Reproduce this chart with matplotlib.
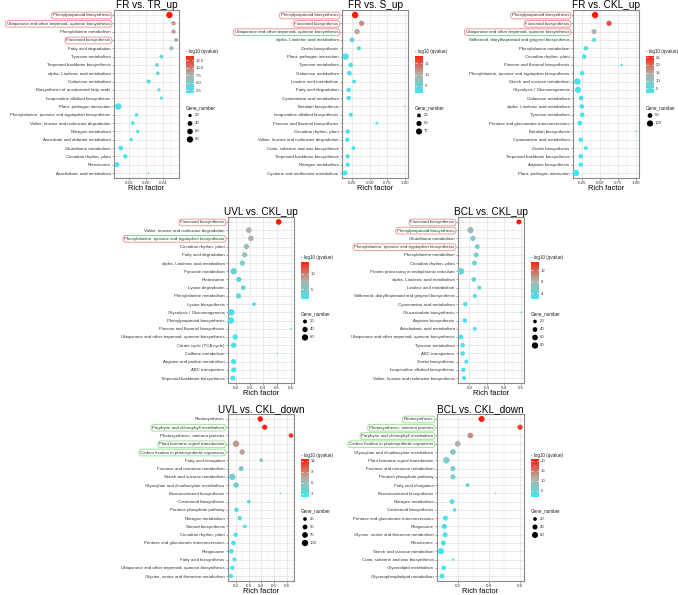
import numpy as np
import matplotlib
matplotlib.use('Agg')
import matplotlib.pyplot as plt
from matplotlib.colors import LinearSegmentedColormap, Normalize

plt.rcParams['font.family'] = ['Liberation Sans', 'DejaVu Sans']

# ---------------- DATA ----------------
FR_TR_terms = ["Phenylpropanoid biosynthesis", "Ubiquinone and other terpenoid- quinone biosynthesis",
               "Phenylalanine metabolism", "Flavonoid biosynthesis", "Fatty acid degradation",
               "Tyrosine metabolism", "Terpenoid backbone biosynthesis", "alpha- Linolenic acid metabolism",
               "Galactose metabolism", "Biosynthesis of unsaturated fatty acids",
               "Isoquinoline alkaloid biosynthesis", "Plant- pathogen interaction",
               "Phenylalanine, tyrosine and tryptophan biosynthesis", "Valine, leucine and isoleucine degradation",
               "Nitrogen metabolism", "Ascorbate and aldarate metabolism", "Glutathione metabolism",
               "Circadian rhythm- plant", "Peroxisome", "Arachidonic acid metabolism"]
FR_TR_rich = [0.256, 0.266, 0.266, 0.272, 0.261, 0.237, 0.226, 0.228, 0.206, 0.231, 0.237, 0.133,
              0.177, 0.168, 0.180, 0.164, 0.139, 0.150, 0.130, 0.206]
FR_TR_logq = [14.0, 8.5, 8.3, 7.6, 6.5, 3.8, 3.6, 3.6, 3.5, 3.0, 2.8, 2.0, 2.2, 2.1, 2.0, 1.9, 1.7, 1.6, 1.5, 1.4]
FR_TR_genes = [82, 35, 33, 28, 30, 25, 25, 25, 30, 18, 18, 85, 22, 25, 20, 22, 38, 32, 42, 10]
FR_TR_marked = ["Phenylpropanoid biosynthesis", "Ubiquinone and other terpenoid- quinone biosynthesis",
                "Flavonoid biosynthesis"]
FR_TR_xticks = [0.16, 0.20, 0.24]
FR_TR_xlabels = ["0.16", "0.20", "0.24"]
FR_TR_cticks = [2.5, 5.0, 7.5, 10.0, 12.5]
FR_TR_clabels = ["2.5", "5.0", "7.5", "10.0", "12.5"]
FR_TR_sizes = [20, 40, 60, 80]

FR_S_terms = ["Phenylpropanoid biosynthesis", "Flavonoid biosynthesis",
              "Ubiquinone and other terpenoid- quinone biosynthesis", "alpha- Linolenic acid metabolism",
              "Zeatin biosynthesis", "Plant- pathogen interaction", "Tyrosine metabolism",
              "Galactose metabolism", "Linoleic acid metabolism", "Fatty acid degradation",
              "Cyanoamino acid metabolism", "Betalain biosynthesis", "Isoquinoline alkaloid biosynthesis",
              "Flavone and flavonol biosynthesis", "Circadian rhythm- plant",
              "Valine, leucine and isoleucine degradation", "Cutin, suberine and wax biosynthesis",
              "Terpenoid backbone biosynthesis", "Nitrogen metabolism", "Cysteine and methionine metabolism"]
FR_S_rich = [0.293, 0.385, 0.322, 0.250, 0.346, 0.159, 0.231, 0.212, 0.279, 0.202, 0.202, 1.0, 0.231,
             0.60, 0.188, 0.183, 0.269, 0.188, 0.188, 0.150]
FR_S_logq = [18.5, 12.0, 10.5, 5.0, 3.0, 3.0, 2.8, 2.8, 2.5, 2.3, 2.3, 2.0, 2.0, 1.8, 1.7, 1.7, 1.6, 1.6, 1.6, 1.5]
FR_S_genes = [85, 55, 55, 42, 30, 88, 36, 40, 25, 35, 35, 8, 28, 12, 35, 35, 25, 32, 32, 45]
FR_S_marked = ["Phenylpropanoid biosynthesis", "Flavonoid biosynthesis",
               "Ubiquinone and other terpenoid- quinone biosynthesis"]
FR_S_xticks = [0.25, 0.50, 0.75, 1.00]
FR_S_xlabels = ["0.25", "0.50", "0.75", "1.00"]
FR_S_cticks = [5, 10, 15]
FR_S_clabels = ["5", "10", "15"]
FR_S_sizes = [25, 50, 75]

FR_CKL_terms = ["Phenylpropanoid biosynthesis", "Flavonoid biosynthesis",
                "Ubiquinone and other terpenoid- quinone biosynthesis",
                "Stilbenoid, diarylheptanoid and gingerol biosynthesis", "Phenylalanine metabolism",
                "Circadian rhythm- plant", "Flavone and flavonol biosynthesis",
                "Phenylalanine, tyrosine and tryptophan biosynthesis", "Starch and sucrose metabolism",
                "Glycolysis / Gluconeogenesis", "Galactose metabolism", "alpha- Linolenic acid metabolism",
                "Tyrosine metabolism", "Pentose and glucuronate interconversions", "Betalain biosynthesis",
                "Cyanoamino acid metabolism", "Zeatin biosynthesis", "Terpenoid backbone biosynthesis",
                "Arginine biosynthesis", "Plant- pathogen interaction"]
FR_CKL_rich = [0.434, 0.627, 0.420, 0.420, 0.307, 0.283, 0.80, 0.255, 0.189, 0.198, 0.241, 0.250, 0.255,
               0.222, 1.0, 0.236, 0.307, 0.236, 0.236, 0.170]
FR_CKL_logq = [26.0, 21.0, 13.0, 4.5, 4.0, 3.5, 3.0, 2.8, 2.8, 2.7, 2.5, 2.4, 2.3, 2.2, 2.0, 2.0, 1.9,
               1.8, 1.8, 1.7]
FR_CKL_genes = [105, 68, 62, 35, 45, 45, 12, 45, 112, 102, 50, 48, 45, 50, 8, 45, 30, 45, 42, 112]
FR_CKL_marked = ["Phenylpropanoid biosynthesis", "Flavonoid biosynthesis",
                 "Ubiquinone and other terpenoid- quinone biosynthesis"]
FR_CKL_xticks = [0.25, 0.50, 0.75, 1.00]
FR_CKL_xlabels = ["0.25", "0.50", "0.75", "1.00"]
FR_CKL_cticks = [5, 10, 15, 20, 25]
FR_CKL_clabels = ["5", "10", "15", "20", "25"]
FR_CKL_sizes = [50, 100]

UVL_up_terms = ["Flavonoid biosynthesis", "Valine, leucine and isoleucine degradation",
                "Phenylalanine, tyrosine and tryptophan biosynthesis", "Circadian rhythm- plant",
                "Fatty acid degradation", "alpha- Linolenic acid metabolism", "Pyruvate metabolism",
                "Proteasome", "Lysine degradation", "Phenylalanine metabolism", "Lysine biosynthesis",
                "Glycolysis / Gluconeogenesis", "Phenylpropanoid biosynthesis",
                "Flavone and flavonol biosynthesis", "Ubiquinone and other terpenoid- quinone biosynthesis",
                "Citrate cycle (TCA cycle)", "Caffeine metabolism", "Arginine and proline metabolism",
                "ABC transporters", "Terpenoid backbone biosynthesis"]
UVL_up_rich = [0.511, 0.294, 0.309, 0.277, 0.264, 0.247, 0.185, 0.222, 0.254, 0.220, 0.331, 0.168,
               0.165, 0.600, 0.195, 0.183, 0.500, 0.183, 0.185, 0.178]
UVL_up_logq = [14.0, 7.5, 7.5, 6.5, 5.5, 4.8, 4.0, 3.8, 3.6, 3.5, 3.0, 2.5, 2.4, 2.3, 2.2, 2.1, 2.0,
               1.9, 1.8, 1.7]
UVL_up_genes = [48, 48, 46, 42, 38, 38, 64, 40, 30, 38, 18, 66, 66, 6, 40, 40, 6, 38, 35, 33]
UVL_up_marked = ["Flavonoid biosynthesis", "Phenylalanine, tyrosine and tryptophan biosynthesis"]
UVL_up_xticks = [0.2, 0.3, 0.4, 0.5, 0.6]
UVL_up_xlabels = ["0.2", "0.3", "0.4", "0.5", "0.6"]
UVL_up_cticks = [5, 10]
UVL_up_clabels = ["5", "10"]
UVL_up_sizes = [20, 40, 60]

BCL_up_terms = ["Flavonoid biosynthesis", "Phenylpropanoid biosynthesis", "Glutathione metabolism",
                "Phenylalanine, tyrosine and tryptophan biosynthesis", "Phenylalanine metabolism",
                "Circadian rhythm- plant", "Protein processing in endoplasmic reticulum",
                "alpha- Linolenic acid metabolism", "Linoleic acid metabolism",
                "Stilbenoid, diarylheptanoid and gingerol biosynthesis", "Cyanoamino acid metabolism",
                "Glucosinolate biosynthesis", "Arginine biosynthesis", "Arachidonic acid metabolism",
                "Ubiquinone and other terpenoid- quinone biosynthesis", "Tyrosine metabolism",
                "ABC transporters", "Zeatin biosynthesis", "Isoquinoline alkaloid biosynthesis",
                "Valine, leucine and isoleucine biosynthesis"]
BCL_up_rich = [0.486, 0.206, 0.220, 0.245, 0.239, 0.229, 0.151, 0.225, 0.257, 0.231, 0.176, 0.498,
               0.173, 0.231, 0.151, 0.161, 0.161, 0.182, 0.165, 0.169]
BCL_up_logq = [15.0, 7.0, 5.5, 5.0, 4.8, 4.5, 4.3, 4.0, 3.6, 3.2, 2.8, 2.6, 2.5, 2.4, 2.3, 2.2, 2.1,
               2.0, 1.9, 1.9]
BCL_up_genes = [45, 78, 50, 42, 42, 40, 86, 38, 25, 25, 35, 6, 35, 22, 35, 33, 33, 25, 30, 28]
BCL_up_marked = ["Flavonoid biosynthesis", "Phenylpropanoid biosynthesis",
                 "Phenylalanine, tyrosine and tryptophan biosynthesis"]
BCL_up_xticks = [0.2, 0.3, 0.4, 0.5]
BCL_up_xlabels = ["0.2", "0.3", "0.4", "0.5"]
BCL_up_cticks = [4, 8, 12]
BCL_up_clabels = ["4", "8", "12"]
BCL_up_sizes = [20, 40, 60, 80]

UVL_dn_terms = ["Photosynthesis", "Porphyrin and chlorophyll metabolism", "Photosynthesis- antenna proteins",
                "Plant hormone signal transduction", "Carbon fixation in photosynthetic organisms",
                "Fatty acid elongation", "Fructose and mannose metabolism", "Starch and sucrose metabolism",
                "Glyoxylate and dicarboxylate metabolism", "Brassinosteroid biosynthesis",
                "Carotenoid biosynthesis", "Pentose phosphate pathway", "Nitrogen metabolism",
                "Steroid biosynthesis", "Circadian rhythm- plant", "Pentose and glucuronate interconversions",
                "Phagosome", "Fatty acid biosynthesis",
                "Ubiquinone and other terpenoid- quinone biosynthesis",
                "Glycine, serine and threonine metabolism"]
UVL_dn_rich = [0.392, 0.427, 0.635, 0.200, 0.248, 0.400, 0.240, 0.171, 0.200, 0.552, 0.301, 0.203,
               0.229, 0.269, 0.197, 0.179, 0.163, 0.187, 0.171, 0.160]
UVL_dn_logq = [12.5, 12.0, 11.5, 8.0, 7.8, 5.5, 5.2, 4.5, 4.2, 3.5, 3.5, 3.3, 3.0, 2.8, 2.7, 2.6, 2.4,
               2.3, 2.2, 2.1]
UVL_dn_genes = [70, 62, 45, 105, 65, 25, 55, 102, 65, 8, 25, 45, 40, 22, 40, 45, 45, 30, 35, 38]
UVL_dn_marked = ["Porphyrin and chlorophyll metabolism", "Plant hormone signal transduction",
                 "Carbon fixation in photosynthetic organisms"]
UVL_dn_xticks = [0.2, 0.3, 0.4, 0.5, 0.6]
UVL_dn_xlabels = ["0.2", "0.3", "0.4", "0.5", "0.6"]
UVL_dn_cticks = [3, 6, 9, 12]
UVL_dn_clabels = ["3", "6", "9", "12"]
UVL_dn_sizes = [25, 50, 75, 100]

BCL_dn_terms = ["Photosynthesis", "Photosynthesis- antenna proteins", "Porphyrin and chlorophyll metabolism",
                "Carbon fixation in photosynthetic organisms", "Glyoxylate and dicarboxylate metabolism",
                "Plant hormone signal transduction", "Fructose and mannose metabolism",
                "Pentose phosphate pathway", "Fatty acid elongation", "Brassinosteroid biosynthesis",
                "Nitrogen metabolism", "Carotenoid biosynthesis", "Pentose and glucuronate interconversions",
                "Phagosome", "Glycine, serine and threonine metabolism", "Peroxisome",
                "Starch and sucrose metabolism", "Cutin, suberine and wax biosynthesis",
                "Glycerolipid metabolism", "Glycerophospholipid metabolism"]
BCL_dn_rich = [0.354, 0.602, 0.281, 0.200, 0.169, 0.127, 0.169, 0.169, 0.264, 0.442, 0.163, 0.180,
               0.121, 0.114, 0.119, 0.108, 0.092, 0.171, 0.110, 0.099]
BCL_dn_logq = [21.0, 19.0, 14.0, 11.0, 8.0, 7.0, 6.5, 6.5, 5.0, 4.0, 3.5, 3.0, 2.8, 2.6, 2.5, 2.4,
               2.3, 2.2, 2.1, 2.0]
BCL_dn_genes = [60, 42, 50, 55, 52, 72, 42, 42, 22, 8, 35, 18, 38, 40, 38, 38, 64, 10, 32, 38]
BCL_dn_marked = ["Photosynthesis", "Photosynthesis- antenna proteins", "Porphyrin and chlorophyll metabolism",
                 "Carbon fixation in photosynthetic organisms"]
BCL_dn_xticks = [0.2, 0.4, 0.6]
BCL_dn_xlabels = ["0.2", "0.4", "0.6"]
BCL_dn_cticks = [5, 10, 15, 20]
BCL_dn_clabels = ["5", "10", "15", "20"]
BCL_dn_sizes = [20, 40, 60]

titles = ["FR vs. TR_up", "FR vs. S_up", "FR vs. CKL_up", "UVL vs. CKL_up", "BCL vs. CKL_up",
          "UVL vs. CKL_down", "BCL vs. CKL_down"]

# ---------------- LAYOUT ----------------
W, H = 678, 595
fig = plt.figure(figsize=(W / 100, H / 100), dpi=100)
cmap = LinearSegmentedColormap.from_list('qv', ['#3FE6F2', '#B4B0A6', '#FF1A0A'])
PINK = '#F29A9A'
GREEN = '#9EE39A'

# (left, right, top, bottom) in pixels
boxes = [(114, 179, 10, 178), (342, 408, 10, 178), (573, 639, 10, 178),
         (228, 294, 217, 383), (458, 524, 217, 383),
         (228, 294, 414, 581), (437, 524, 414, 581)]
panels = [
    (FR_TR_terms, FR_TR_rich, FR_TR_logq, FR_TR_genes, FR_TR_marked, FR_TR_xticks, FR_TR_xlabels,
     FR_TR_cticks, FR_TR_clabels, FR_TR_sizes, PINK),
    (FR_S_terms, FR_S_rich, FR_S_logq, FR_S_genes, FR_S_marked, FR_S_xticks, FR_S_xlabels,
     FR_S_cticks, FR_S_clabels, FR_S_sizes, PINK),
    (FR_CKL_terms, FR_CKL_rich, FR_CKL_logq, FR_CKL_genes, FR_CKL_marked, FR_CKL_xticks, FR_CKL_xlabels,
     FR_CKL_cticks, FR_CKL_clabels, FR_CKL_sizes, PINK),
    (UVL_up_terms, UVL_up_rich, UVL_up_logq, UVL_up_genes, UVL_up_marked, UVL_up_xticks, UVL_up_xlabels,
     UVL_up_cticks, UVL_up_clabels, UVL_up_sizes, PINK),
    (BCL_up_terms, BCL_up_rich, BCL_up_logq, BCL_up_genes, BCL_up_marked, BCL_up_xticks, BCL_up_xlabels,
     BCL_up_cticks, BCL_up_clabels, BCL_up_sizes, PINK),
    (UVL_dn_terms, UVL_dn_rich, UVL_dn_logq, UVL_dn_genes, UVL_dn_marked, UVL_dn_xticks, UVL_dn_xlabels,
     UVL_dn_cticks, UVL_dn_clabels, UVL_dn_sizes, GREEN),
    (BCL_dn_terms, BCL_dn_rich, BCL_dn_logq, BCL_dn_genes, BCL_dn_marked, BCL_dn_xticks, BCL_dn_xlabels,
     BCL_dn_cticks, BCL_dn_clabels, BCL_dn_sizes, GREEN),
]

DMIN, DMAX = 1.6, 6.5  # marker diameters in px


def rect(l, r, t, b):
    return [l / W, 1 - b / H, (r - l) / W, (b - t) / H]


def diam(g, gmin, gmax):
    g = np.asarray(g, dtype=float)
    return DMIN + (DMAX - DMIN) * np.sqrt(np.clip((g - gmin) / (gmax - gmin), 0, 1))


GRID = '#E6E6E6'
TXT = '#333333'
LBL = 3.2

for (l, r, t, b), title, pdata in zip(boxes, titles, panels):
    terms, rich, logq, genes, marked, xt, xl, ct, cl, sb, hc = pdata
    n = len(terms)
    ax = fig.add_axes(rect(l, r, t, b))
    ypos = np.arange(n)[::-1]
    gmin, gmax = min(genes), max(genes)
    norm = Normalize(min(logq), max(logq))
    d = diam(genes, gmin, gmax)
    ax.scatter(rich, ypos, s=(d * 0.72) ** 2, c=logq, cmap=cmap, norm=norm, linewidths=0, zorder=3)
    lo, hi = min(rich), max(rich)
    pad = 0.05 * (hi - lo)
    ax.set_xlim(lo - pad, hi + pad)
    ax.set_ylim(-0.6, n - 0.4)
    ax.set_xticks(xt)
    ax.set_xticklabels(xl)
    minors = [(xt[i] + xt[i + 1]) / 2 for i in range(len(xt) - 1)]
    minors = [xt[0] - (xt[1] - xt[0]) / 2] + minors + [xt[-1] + (xt[1] - xt[0]) / 2]
    for m in minors:
        ax.axvline(m, color=GRID, lw=0.3, zorder=0)
    for v in xt:
        ax.axvline(v, color=GRID, lw=0.6, zorder=0)
    for yv in ypos:
        ax.axhline(yv, color=GRID, lw=0.6, zorder=0)
    ax.set_yticks(ypos)
    ax.set_yticklabels(terms)
    ax.tick_params(axis='both', labelsize=LBL, length=1.5, width=0.4, color='#555555', pad=1,
                   labelcolor=TXT)
    ax.tick_params(axis='x', pad=0.6)
    for sp in ax.spines.values():
        sp.set_color('#8A8A8A')
        sp.set_linewidth(0.8)
    for lab in ax.get_yticklabels():
        if lab.get_text() in marked:
            lab.set_bbox(dict(boxstyle='round,pad=0.3,rounding_size=0.6', fc='none', ec=hc, lw=0.7))
    ax.set_title(title, fontsize=7.2, pad=1.2)
    ax.set_xlabel('Rich factor', fontsize=5.4, labelpad=0.3)

    # colour legend
    lx = r + 7
    ly = (t + b) / 2 - 42.5
    fig.text(lx / W, 1 - ly / H, '- log10 (qvalue)', fontsize=3.3, va='center', ha='left', color='#222222')
    cax = fig.add_axes(rect(lx, lx + 7.5, ly + 4, ly + 42))
    grad = np.linspace(min(logq), max(logq), 256).reshape(-1, 1)
    cax.imshow(grad, aspect='auto', cmap=cmap, norm=norm, origin='lower',
               extent=[0, 1, min(logq), max(logq)])
    cax.set_xticks([])
    cax.yaxis.tick_right()
    cax.set_yticks(ct)
    cax.set_yticklabels(cl)
    cax.tick_params(axis='y', labelsize=3.1, length=0, pad=1.5, labelcolor=TXT)
    for v in ct:
        cax.plot([0, 0.2], [v, v], color='white', lw=0.4)
        cax.plot([0.8, 1], [v, v], color='white', lw=0.4)
    cax.set_xlim(0, 1)
    cax.set_ylim(min(logq), max(logq))
    for sp in cax.spines.values():
        sp.set_visible(False)

    # size legend
    sy = ly + 56
    fig.text(lx / W, 1 - sy / H, 'Gene_number', fontsize=3.3, va='center', ha='left', color='#222222')
    lax = fig.add_axes(rect(lx, lx + 30, sy + 4, sy + 4 + 8.0 * len(sb)))
    lax.set_axis_off()
    lax.set_xlim(0, 30)
    lax.set_ylim(8.0 * len(sb), 0)
    yy = 4.0 + 8.0 * np.arange(len(sb))
    lax.scatter(np.full(len(sb), 4.0), yy, s=(diam(sb, gmin, gmax) * 0.72) ** 2, c='black',
                linewidths=0)
    for v, yv in zip(sb, yy):
        lax.text(9, yv, str(v), fontsize=3.1, va='center', ha='left', color=TXT)

fig.savefig('out.png', dpi=100)
